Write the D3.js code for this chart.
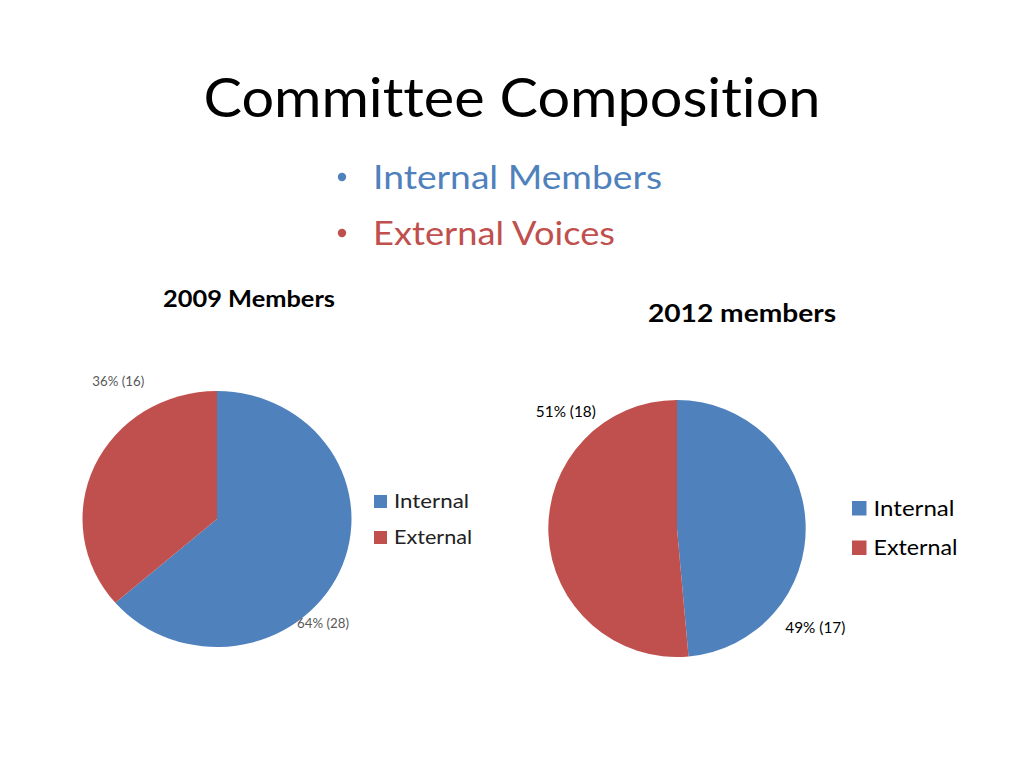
<!DOCTYPE html>
<html>
<head>
<meta charset="utf-8">
<script src="https://cdn.jsdelivr.net/npm/d3@7"></script>
<style>
  html, body { margin: 0; padding: 0; background: #fff; }
  svg { display: block; }
  text { font-family: Lato, "Open Sans", "Liberation Sans", sans-serif; font-variant-ligatures: none; font-feature-settings: "liga" 0; }
</style>
</head>
<body>
<svg id="chart" width="1024" height="768"></svg>
<script>
// ---- data ----
const categories = ["Internal", "External"];
const members2009 = [28, 16];
const members2012 = [17, 18];
const bulletItems = ["Internal Members", "External Voices"];
const chartTitles = ["2009 Members", "2012 members"];
const pageTitle = "Committee Composition";

// ---- styles / layout ----
const colors = ["#4F81BD", "#C0504D"];
const svg = d3.select("#chart");

svg.append("text")
  .attr("x", 512).attr("y", 117)
  .attr("text-anchor", "middle")
  .attr("font-size", 54)
  .attr("textLength", 617).attr("lengthAdjust", "spacingAndGlyphs")
  .attr("fill", "#000")
  .text(pageTitle);

const bulletY = [189, 245];
const bulletW = [289, 242];
bulletItems.forEach((t, i) => {
  svg.append("circle").attr("cx", 342).attr("cy", bulletY[i] - 12).attr("r", 4.2).attr("fill", colors[i]);
  svg.append("text")
    .attr("x", 373).attr("y", bulletY[i])
    .attr("font-size", 33)
    .attr("textLength", bulletW[i]).attr("lengthAdjust", "spacingAndGlyphs")
    .attr("fill", colors[i])
    .text(t);
});

const charts = [
  {
    values: members2009, title: chartTitles[0],
    cx: 217, cy: 519, rx: 134.5, ry: 128,
    titleX: 249, titleY: 307, titleSize: 22, titleW: 172,
    labelColor: "#595959", labelSize: 12.5, labelW: 52,
    labelPos: [{a: 135, r: 150}, {a: 324, r: 168}],
    legendX: 374, legendY: 495, legendGap: 36, sq: 13, legendSize: 19, legendColor: "#222",
    legendW: [75, 78]
  },
  {
    values: members2012, title: chartTitles[1],
    cx: 677, cy: 528.5, rx: 128.7, ry: 128.5,
    titleX: 742, titleY: 322, titleSize: 24, titleW: 188,
    labelColor: "#000", labelSize: 14.5, labelW: 60,
    labelPos: [{a: 126, r: 171}, {a: 316, r: 160}],
    legendX: 852, legendY: 501, legendGap: 39.5, sq: 14.5, legendSize: 21, legendColor: "#000",
    legendW: [81, 84]
  }
];

const pie = d3.pie().sort(null).value(d => d);

charts.forEach(c => {
  const total = d3.sum(c.values);
  svg.append("text")
    .attr("x", c.titleX).attr("y", c.titleY)
    .attr("text-anchor", "middle")
    .attr("font-size", c.titleSize).attr("font-weight", "bold")
    .attr("textLength", c.titleW).attr("lengthAdjust", "spacingAndGlyphs")
    .text(c.title);

  const g = svg.append("g")
    .attr("transform", `translate(${c.cx},${c.cy}) scale(1,${c.ry / c.rx})`);
  const arc = d3.arc().innerRadius(0).outerRadius(c.rx);
  g.selectAll("path").data(pie(c.values)).join("path")
    .attr("d", arc)
    .attr("fill", (d, i) => colors[i]);

  // data labels
  pie(c.values).forEach((d, i) => {
    const p = d3.pointRadial(c.labelPos[i].a * Math.PI / 180, c.labelPos[i].r);
    svg.append("text")
      .attr("x", c.cx + p[0]).attr("y", c.cy + p[1])
      .attr("text-anchor", "middle").attr("dominant-baseline", "middle")
      .attr("font-size", c.labelSize).attr("fill", c.labelColor)
      .attr("textLength", c.labelW).attr("lengthAdjust", "spacingAndGlyphs")
      .text(`${Math.round(d.value / total * 100)}% (${d.value})`);
  });

  // legend
  categories.forEach((cat, i) => {
    const y = c.legendY + i * c.legendGap;
    svg.append("rect")
      .attr("x", c.legendX).attr("y", y).attr("width", c.sq).attr("height", c.sq)
      .attr("fill", colors[i]);
    svg.append("text")
      .attr("x", c.legendX + c.sq + 7).attr("y", y + c.sq)
      .attr("font-size", c.legendSize).attr("fill", c.legendColor)
      .attr("textLength", c.legendW[i]).attr("lengthAdjust", "spacingAndGlyphs")
      .text(cat);
  });
});
</script>
</body>
</html>
